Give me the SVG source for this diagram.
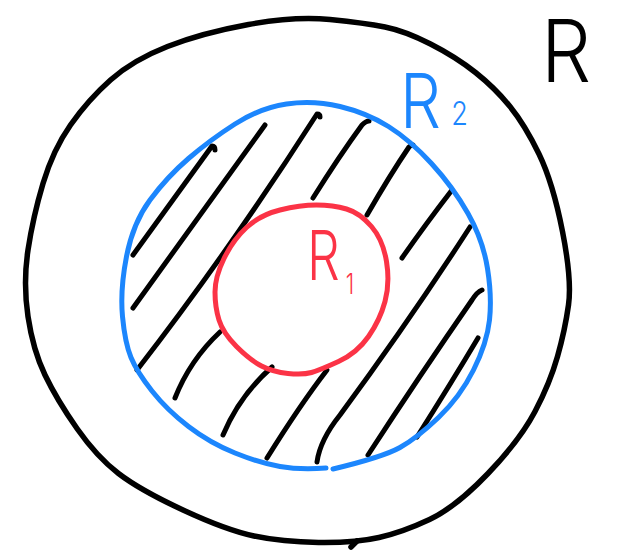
<svg xmlns="http://www.w3.org/2000/svg" width="630" height="551" viewBox="0 0 630 551">
<style>
.ink{fill:none;stroke-linecap:round;stroke-linejoin:round}
.blk{stroke:#000;stroke-width:5.5}
.blu{stroke:#1c86fd;stroke-width:5}
.red{stroke:#fb3346;stroke-width:5}
.hat{stroke:#000;stroke-width:5}
.lbl{font-family:Inter,"Liberation Sans",sans-serif;font-weight:300}
</style>
<rect width="630" height="551" fill="#fff"/>
<g id="outer-region">
<path class="ink blk" d="M 330,19.5 Q 365,23 385,27 Q 405,31 430.5,44 Q 456,57 475.5,72.5 Q 495,88 510,106.5 Q 525,125 539,154 Q 553,183 562.5,231.5 Q 572,280 568.5,305 Q 565,330 557.5,356.5 Q 550,383 535,411.5 Q 520,440 488,473.5 Q 456,507 429.5,519.5 Q 403,532 379,537.5 Q 355,543 318.5,542.5 Q 282,542 254,536 Q 226,530 183,510 Q 140,490 118.5,473.5 Q 97,457 77,428.5 Q 57,400 45,375 Q 33,350 28,316.5 Q 23,283 28,250 Q 33,217 43,183.5 Q 53,150 70.5,125 Q 88,100 110.5,80 Q 133,60 167.5,46.5 Q 202,33 248.5,24.5 Q 295,16 330,19.5 Z"/>
<path class="ink blk" d="M 357,541 L 351,547"/>
</g>
<g id="hatching">
<path class="ink hat" d="M 133,255 L 212,146 Q 215,146 215,150"/>
<path class="ink hat" d="M 133,308 L 265,125"/>
<path class="ink hat" d="M 137,370 Q 230,250 317,114 Q 320,114 320,117"/>
<path class="ink hat" d="M 313,198 Q 340,155 362,125 Q 366,121 369,121"/>
<path class="ink hat" d="M 367,215 Q 390,175 409,147 Q 411,145 413,145"/>
<path class="ink hat" d="M 402,258 Q 425,225 452,190"/>
<path class="ink hat" d="M 175,398 Q 190,360 220,332"/>
<path class="ink hat" d="M 223,435 Q 240,395 272,367"/>
<path class="ink hat" d="M 267,458 Q 300,405 327,370"/>
<path class="ink hat" d="M 317,462 Q 320,440 340,415 Q 410,320 470,227"/>
<path class="ink hat" d="M 368,455 Q 420,375 472,300 Q 477,292 482,290"/>
<path class="ink hat" d="M 417,437 Q 450,385 478,338"/>
</g>
<g id="middle-region">
<path class="ink blu" d="M 333,469 Q 383,457 400,447.5 Q 417,438 438.5,417.5 Q 460,397 473.5,370 Q 487,343 489.5,320 Q 492,297 487.5,268.5 Q 483,240 468,213.5 Q 453,187 431.5,163.5 Q 410,140 388.5,126.5 Q 367,113 340,106.5 Q 313,100 286.5,104 Q 260,108 235,124 Q 210,140 188.5,158.5 Q 167,177 150,200 Q 133,223 126.5,256.5 Q 120,290 122.5,316.5 Q 125,343 131,357.5 Q 137,372 152,391 Q 167,410 188.5,426.5 Q 210,443 235,453 Q 260,463 280,466.5 Q 300,470 326,468"/>
</g>
<g id="inner-region">
<path class="ink red" d="M 316.5,205 Q 333,205 346.5,209 Q 360,213 371.5,226.5 Q 383,240 386.5,261.5 Q 390,283 385,301.5 Q 380,320 368.5,336.5 Q 357,353 338.5,361.5 Q 320,370 311.5,372.5 Q 303,375 288,373.5 Q 273,372 261.5,366 Q 250,360 236.5,346.5 Q 223,333 219,320 Q 215,307 215,292 Q 215,277 224,258.5 Q 233,240 246.5,227.5 Q 260,215 280,210 Q 300,205 316.5,205 Z"/>
</g>
<g id="labels">
<text class="lbl" transform="translate(541,82) scale(0.92,1)" font-size="86" fill="#000">R</text>
<text class="lbl" transform="translate(400,128) scale(0.85,1)" font-size="76" fill="#1c86fd">R<tspan font-size="32" dx="12" dy="-3">2</tspan></text>
<text class="lbl" transform="translate(307,280) scale(0.76,1)" font-size="68" fill="#fb3346">R<tspan font-size="28" dx="8" dy="14">1</tspan></text>
</g>
</svg>
